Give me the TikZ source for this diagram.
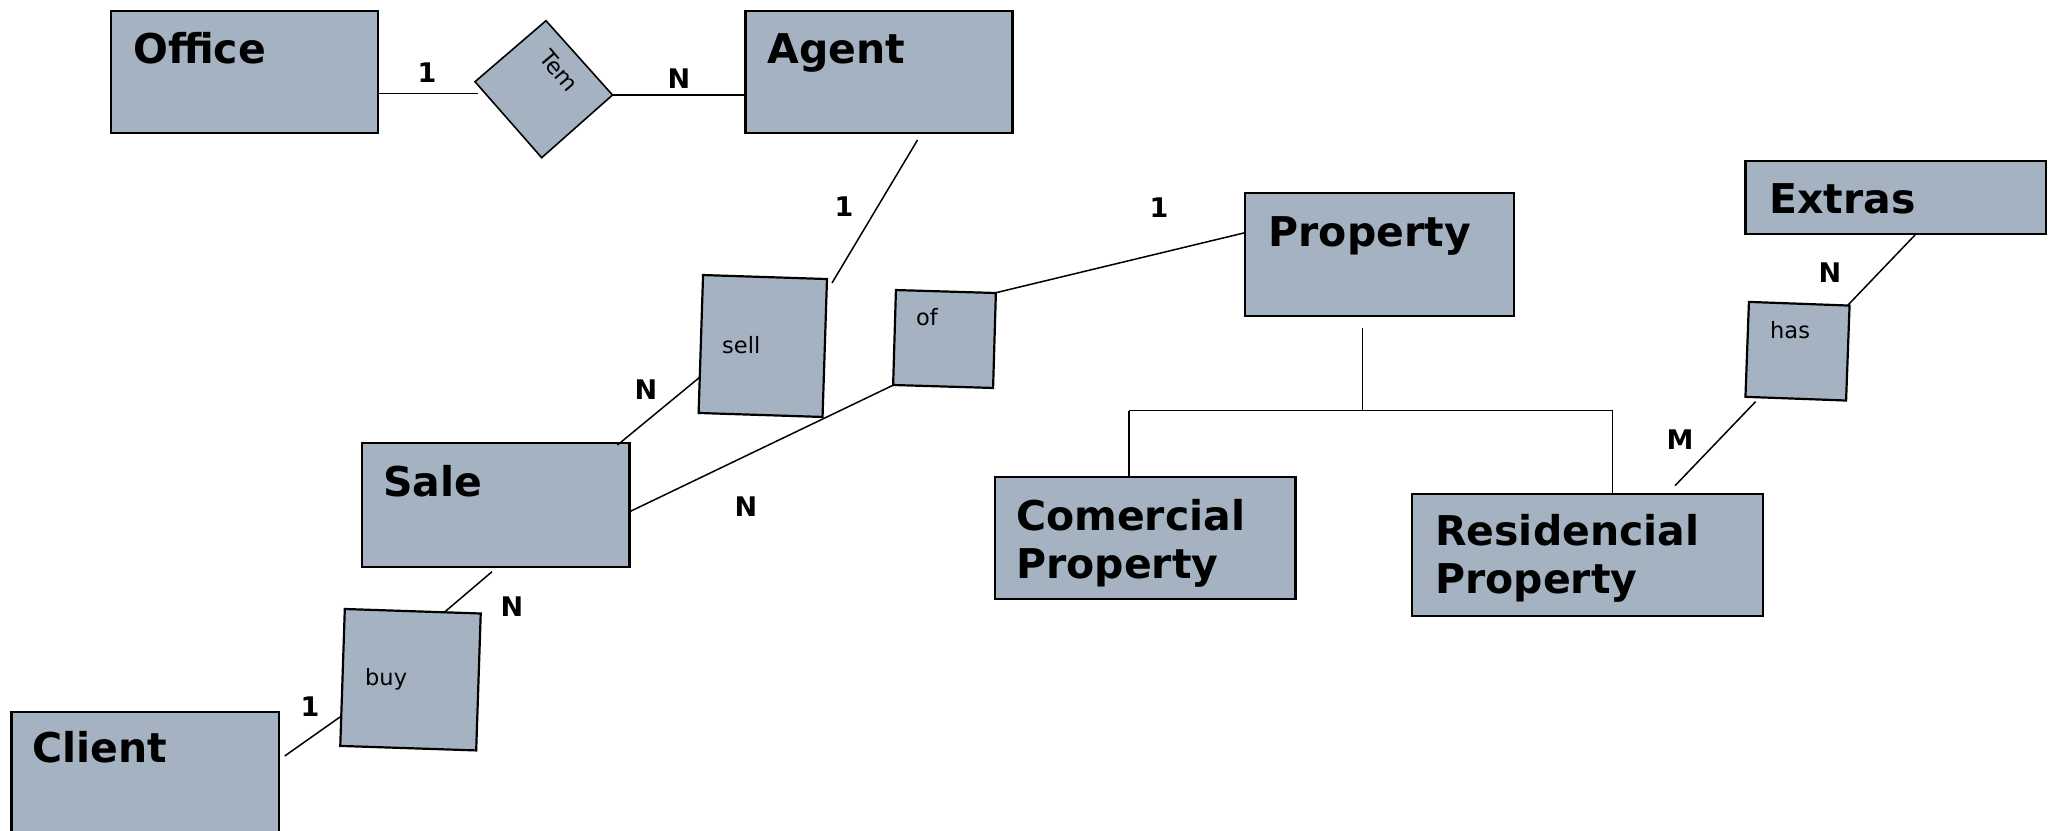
\documentclass[tikz,border=0pt]{standalone}
\usepackage{fontspec}
\setmainfont{DejaVu Sans}
\begin{document}
\definecolor{boxfill}{RGB}{164,178,193}
\begin{tikzpicture}[x=1pt,y=-1pt,
  entity/.style={draw=black,fill=boxfill,line width=2.2pt,inner sep=0pt,outer sep=0pt},
  relbox/.style={draw=black,fill=boxfill,line width=2.2pt,inner sep=0pt,outer sep=0pt},
  etext/.style={anchor=base west,inner sep=0pt,font=\fontsize{41}{48}\selectfont\bfseries},
  etwo/.style={anchor=base west,inner sep=0pt,text width=330pt,align=left,font=\fontsize{41}{48}\selectfont\bfseries},
  rtext/.style={anchor=base west,inner sep=0pt,font=\fontsize{22.5}{27}\selectfont},
  card/.style={inner sep=0pt,font=\fontsize{27}{32}\selectfont\bfseries},
  conn/.style={draw=black,line width=1.5pt}]
\useasboundingbox (0,0) rectangle (2053,830);

% entities
\node[entity,minimum width=267pt,minimum height=122pt] (office) at (244.5,72) {};
\node[entity,minimum width=267pt,minimum height=122pt] (agent) at (879,72) {};
\node[entity,minimum width=269pt,minimum height=123pt] (property) at (1379.5,254.5) {};
\node[entity,minimum width=300.5pt,minimum height=73pt] (extras) at (1895.75,197.5) {};
\node[entity,minimum width=267.5pt,minimum height=124pt] (sale) at (495.75,505) {};
\node[entity,minimum width=300.5pt,minimum height=122pt] (comercial) at (1145.25,538) {};
\node[entity,minimum width=351pt,minimum height=122pt] (resid) at (1587.5,555) {};
\node[entity,minimum width=267.5pt,minimum height=168pt] (client) at (145.25,796) {};

\node[etext] (officet) at ([shift={(22,52)}]office.north west) {Office};
\node[etext] (agentt) at ([shift={(22,52)}]agent.north west) {Agent};
\node[etext] (propertyt) at ([shift={(23.5,53)}]property.north west) {Property};
\node[etext] (extrast) at ([shift={(23.5,52)}]extras.north west) {Extras};
\node[etext] (salet) at ([shift={(21,53)}]sale.north west) {Sale};
\node[etwo] (comercialt) at ([shift={(21,53)}]comercial.north west) {Comercial\\Property};
\node[etwo] (residt) at ([shift={(23,51)}]resid.north west) {Residencial\\Property};
\node[etext] (clientt) at ([shift={(21,50)}]client.north west) {Client};

% relationship Tem (diamond)
\coordinate (teml) at (475,81.7);
\coordinate (temt) at (546,20.7);
\coordinate (temr) at (612.5,95);
\coordinate (temb) at (541.7,157.7);
\path[draw=black,fill=boxfill,line width=1.6pt,line join=miter] (teml) -- (temt) -- (temr) -- (temb) -- cycle;
\node[inner sep=0pt,rotate=-50,font=\fontsize{22.5}{27}\selectfont] (temtext) at (559,71) {Tem};

% relationship boxes
\node[relbox,minimum width=124pt,minimum height=138pt,rotate=-1.85] (sell) at (762.8,346) {};
\node[relbox,minimum width=100pt,minimum height=95pt,rotate=-1.7] (of) at (944.5,339) {};
\node[relbox,minimum width=100.7pt,minimum height=95pt,rotate=-2.1] (has) at (1797.5,351.2) {};
\node[relbox,minimum width=136pt,minimum height=137pt,rotate=-1.9] (buy) at (410.5,679.7) {};
\node[rtext] (sellt) at (722,353) {sell};
\node[rtext] (oft) at (916,325) {of};
\node[rtext] (hast) at (1770,338) {has};
\node[rtext] (buyt) at (365,685) {buy};

% connector end points
\coordinate (c1) at (478,93.5);
\coordinate (agentS) at (917.5,140);
\coordinate (sellE) at (832,283);
\coordinate (sellW) at (700,377);
\coordinate (saleN) at (617.5,445);
\coordinate (ofSW) at (893.5,385);
\coordinate (saleE) at (629.6,511.7);
\coordinate (ofNE) at (996,292.7);
\coordinate (propW) at (1245,232.7);
\coordinate (propS) at (1362.6,327.7);
\coordinate (hj) at (1362.6,410.7);
\coordinate (hl) at (1129,410.7);
\coordinate (hr) at (1612.5,410.7);
\coordinate (extrasS) at (1915,235);
\coordinate (hasNE) at (1848,305);
\coordinate (hasSW) at (1755.5,401.7);
\coordinate (residN) at (1675,485.7);
\coordinate (saleS) at (492,571.7);
\coordinate (buyN) at (445,611.7);
\coordinate (buyW) at (340,717);
\coordinate (clientE) at (284.7,756);

% connectors
\draw[conn] (office.east |- c1) -- (c1);
\draw[conn] (temr) -- (agent.west |- temr);
\draw[conn] (agentS) -- (sellE);
\draw[conn] (sellW) -- (saleN);
\draw[conn] (ofSW) -- (saleE);
\draw[conn] (ofNE) -- (propW);
\draw[conn] (propS) -- (hj);
\draw[conn] (hl) -- (hr);
\draw[conn] (hl) -- (comercial.north -| hl);
\draw[conn] (hr) -- (resid.north -| hr);
\draw[conn] (extrasS) -- (hasNE);
\draw[conn] (hasSW) -- (residN);
\draw[conn] (saleS) -- (buyN);
\draw[conn] (buyW) -- (clientE);

% cardinalities
\node[card] (k1) at (427,73) {1};
\node[card] (k2) at (679,79) {N};
\node[card] (k3) at (844,207) {1};
\node[card] (k4) at (646,390) {N};
\node[card] (k5) at (746,507) {N};
\node[card] (k6) at (512,607) {N};
\node[card] (k7) at (310,707) {1};
\node[card] (k8) at (1159,208) {1};
\node[card] (k9) at (1830,273) {N};
\node[card] (k10) at (1680,440) {M};
\end{tikzpicture}
\end{document}
